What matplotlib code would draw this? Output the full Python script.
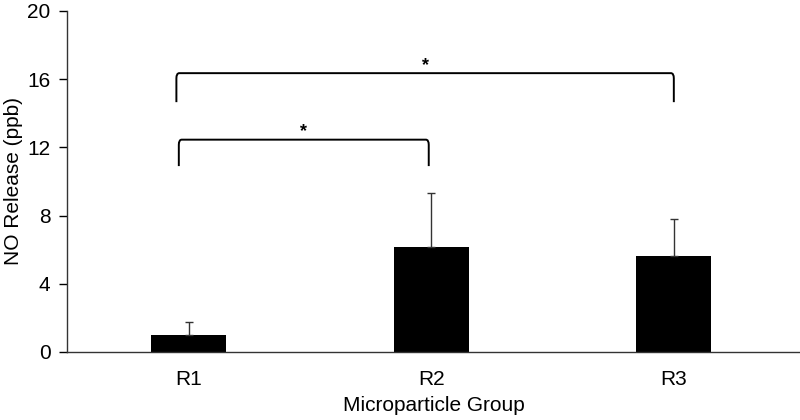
import matplotlib
matplotlib.use("Agg")
import matplotlib.pyplot as plt
from matplotlib.path import Path
from matplotlib.patches import PathPatch

plt.rcParams['font.family'] = ['Liberation Sans', 'DejaVu Sans']

groups = ["R1", "R2", "R3"]
means = [1.0, 6.15, 5.65]
sd_upper = [0.75, 3.2, 2.15]
yticks = [0, 4, 8, 12, 16, 20]
# significance brackets: (start group idx, end group idx, bar height, leg bottom)
brackets = [(0, 1, 12.45, 10.9), (0, 2, 16.35, 14.65)]
sig_labels = ["*", "*"]

fig = plt.figure(figsize=(8, 4.2), dpi=100)
ax = fig.add_axes([0.084, 0.162, 0.916, 0.812])

x = list(range(len(groups)))
ax.bar(x, means, width=0.31, color='black', zorder=2)
ax.errorbar(x, means, yerr=[[0]*len(means), sd_upper], fmt='none',
            ecolor='#333333', elinewidth=1.0, capsize=3, capthick=1.0, zorder=3)

ax.set_xlim(-0.5, 2.52)
ax.set_ylim(0, 20)
ax.set_yticks(yticks)
ax.set_xticks(x)
ax.set_xticklabels(groups)
ax.tick_params(axis='x', length=0, pad=13, labelsize=15)
ax.tick_params(axis='y', length=6, width=1, labelsize=15, direction='out', pad=6)
for s in ['top', 'right']:
    ax.spines[s].set_visible(False)
for s in ['left', 'bottom']:
    ax.spines[s].set_color('#333333')
    ax.spines[s].set_linewidth(1.0)

ax.set_ylabel("NO Release (ppb)", fontsize=15, labelpad=3)
ax.set_xlabel("Microparticle Group", fontsize=15, labelpad=5)

rx, ry = 0.012, 0.3
for (a, b, top, bot), lab in zip(brackets, sig_labels):
    xl = a - 0.05 + (0.01 if b == 1 else 0)
    xr = b - (0.01 if b == 1 else 0)
    verts = [(xl, bot), (xl, top - ry), (xl, top), (xl + rx, top),
             (xr - rx, top), (xr, top), (xr, top - ry), (xr, bot)]
    codes = [Path.MOVETO, Path.LINETO, Path.CURVE3, Path.CURVE3,
             Path.LINETO, Path.CURVE3, Path.CURVE3, Path.LINETO]
    ax.add_patch(PathPatch(Path(verts, codes), fill=False, lw=1.4,
                           edgecolor='black', zorder=4))
    ax.text((xl + xr) / 2, top - 0.05, lab, ha='center', va='bottom',
            fontsize=13, fontweight='bold')

fig.savefig("out.png", dpi=100)
